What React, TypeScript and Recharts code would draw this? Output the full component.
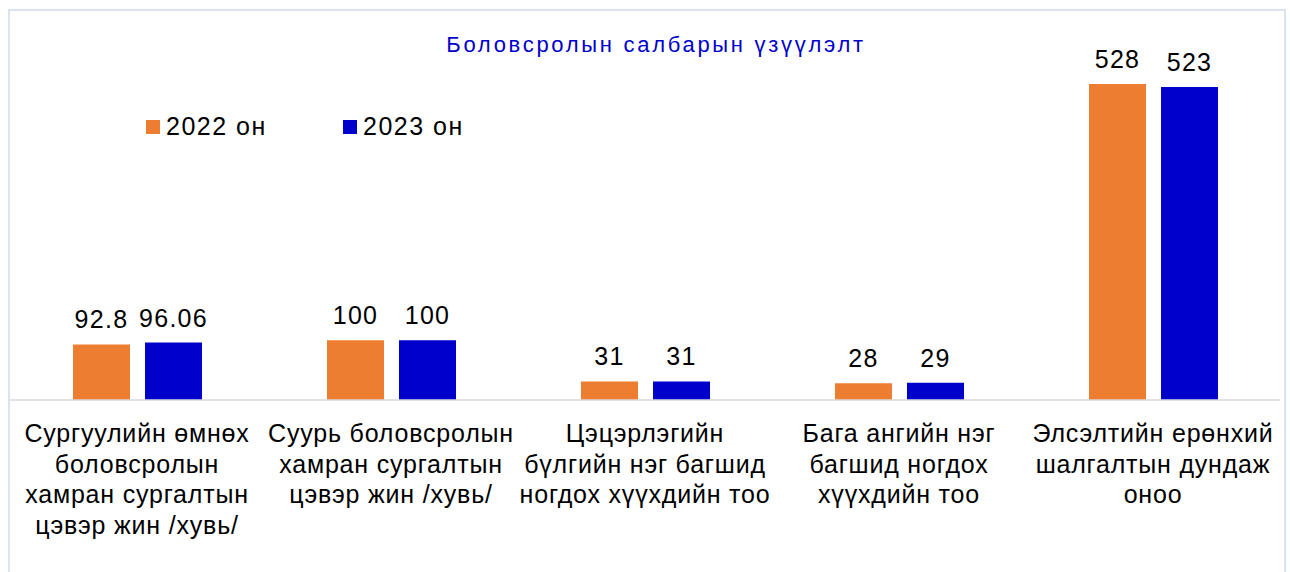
import { BarChart, Bar, XAxis, YAxis, LabelList } from "recharts";

// categories (one string per rendered line)
const categories = [
  ["Сургуулийн өмнөх", "боловсролын", "хамран сургалтын", "цэвэр жин /хувь/"],
  ["Суурь боловсролын", "хамран сургалтын", "цэвэр жин /хувь/"],
  ["Цэцэрлэгийн", "бүлгийн нэг багшид", "ногдох хүүхдийн тоо"],
  ["Бага ангийн нэг", "багшид ногдох", "хүүхдийн тоо"],
  ["Элсэлтийн ерөнхий", "шалгалтын дундаж", "оноо"],
];
const values2022 = [92.8, 100, 31, 28, 528];
const values2023 = [96.06, 100, 31, 29, 523];
const seriesNames = ["2022 он", "2023 он"];
const seriesColors = ["#ED7D31", "#0000CC"];

const chartData = categories.map((lines, i) => ({
  name: lines.join(" "),
  y2022: values2022[i],
  y2023: values2023[i],
}));

const FONT = "'Liberation Sans', Arial, sans-serif";

function CategoryTick({ x, y, payload }: any) {
  const lines = categories[payload.index] || [];
  return (
    <text
      x={x}
      y={y + 34}
      textAnchor="middle"
      fontSize={25}
      fontFamily={FONT}
      letterSpacing={0.8}
      fill="#000"
    >
      {lines.map((line, i) => (
        <tspan key={i} x={x} dy={i === 0 ? 0 : 30.5}>
          {line}
        </tspan>
      ))}
    </text>
  );
}

function LegendBox() {
  return (
    <div
      style={{
        position: "absolute",
        left: 146,
        top: 112,
        display: "flex",
        fontFamily: FONT,
        fontSize: 25,
        letterSpacing: 1.5,
        color: "#000",
      }}
    >
      {seriesNames.map((n, i) => (
        <div key={n} style={{ display: "flex", alignItems: "center", width: 197 }}>
          <span
            style={{
              display: "inline-block",
              width: 14,
              height: 14,
              background: seriesColors[i],
              marginRight: 6,
            }}
          />
          <span>{n}</span>
        </div>
      ))}
    </div>
  );
}

export default function App() {
  return (
    <div
      style={{
        position: "absolute",
        left: 0,
        top: 0,
        width: 1290,
        height: 572,
        overflow: "hidden",
        background: "#fff",
      }}
    >
      <div
        style={{
          position: "absolute",
          left: 8,
          top: 9,
          width: 1278,
          height: 600,
          border: "2px solid #DAE3F0",
          boxSizing: "border-box",
        }}
      />
      <div
        style={{
          position: "absolute",
          left: 0,
          width: 1312,
          top: 32,
          textAlign: "center",
          fontFamily: FONT,
          fontSize: 22,
          letterSpacing: 2.7,
          color: "#0000CC",
        }}
      >
        Боловсролын салбарын үзүүлэлт
      </div>
      <BarChart
        width={1290}
        height={572}
        data={chartData}
        margin={{ top: 41, right: 10, bottom: 0, left: 10 }}
        barSize={57}
        barGap={15}
      >
        <XAxis
          dataKey="name"
          tickLine={false}
          axisLine={{ stroke: "#D9D9D9", strokeWidth: 1.5 }}
          tick={<CategoryTick />}
          interval={0}
          height={172}
        />
        <YAxis hide domain={[0, 600]} />
        <Bar
          dataKey="y2022"
          name={seriesNames[0]}
          fill={seriesColors[0]}
          isAnimationActive={false}
        >
          <LabelList
            dataKey="y2022"
            position="top"
            offset={16}
            fontSize={25}
            fontFamily={FONT}
            letterSpacing={1.3}
            fill="#000"
          />
        </Bar>
        <Bar
          dataKey="y2023"
          name={seriesNames[1]}
          fill={seriesColors[1]}
          isAnimationActive={false}
        >
          <LabelList
            dataKey="y2023"
            position="top"
            offset={16}
            fontSize={25}
            fontFamily={FONT}
            letterSpacing={1.3}
            fill="#000"
          />
        </Bar>
      </BarChart>
      <LegendBox />
    </div>
  );
}
